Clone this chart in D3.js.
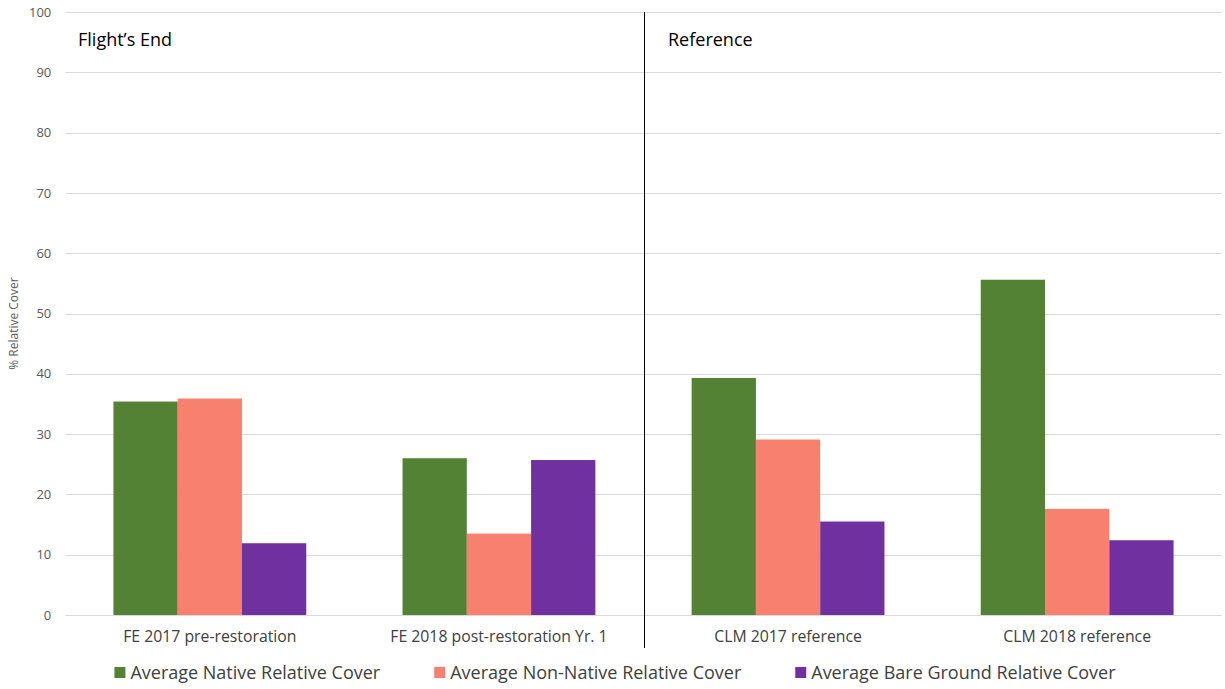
<!DOCTYPE html>
<html>
<head>
<meta charset="utf-8">
<script src="https://cdn.jsdelivr.net/npm/d3@7"></script>
<style>
  html, body { margin: 0; padding: 0; background: #fff; }
  svg { display: block; font-family: "Open Sans", "Liberation Sans", sans-serif; }
</style>
</head>
<body>
<svg id="chart" width="1225" height="689"></svg>
<script>
// Sites / sampling events along the x axis
const categories = [
  "FE 2017 pre-restoration",
  "FE 2018 post-restoration Yr. 1",
  "CLM 2017 reference",
  "CLM 2018 reference"
];
const seriesNames = [
  "Average Native Relative Cover",
  "Average Non-Native Relative Cover",
  "Average Bare Ground Relative Cover"
];
const seriesColors = ["#548235", "#F8806F", "#7030A0"];
const nativeCover    = [35.4, 26.0, 39.3, 55.6];
const nonNativeCover = [35.9, 13.5, 29.1, 17.6];
const bareGround     = [11.9, 25.7, 15.5, 12.4];
const yTicks = [0, 10, 20, 30, 40, 50, 60, 70, 80, 90, 100];
const panelTitles = ["Flight\u2019s End", "Reference"];

const seriesValues = [nativeCover, nonNativeCover, bareGround];
const rows = categories.map((c, i) => ({
  cat: c,
  vals: seriesValues.map((s, j) => ({ key: seriesNames[j], value: s[i], color: seriesColors[j] }))
}));

const svg = d3.select("#chart");
const plot = { left: 65.3, right: 1221.7, top: 12, bottom: 615 };

const x = d3.scaleBand().domain(categories).range([plot.left, plot.right])
  .paddingInner(0.333).paddingOuter(0.1665);
const xs = d3.scaleBand().domain(seriesNames).range([0, x.bandwidth()]);
const y = d3.scaleLinear().domain([0, 100]).range([plot.bottom, plot.top]);

// horizontal gridlines
svg.append("g").selectAll("line").data(yTicks).join("line")
  .attr("x1", plot.left).attr("x2", plot.right)
  .attr("y1", d => Math.round(y(d)) + 0.5).attr("y2", d => Math.round(y(d)) + 0.5)
  .attr("stroke", "#D9D9D9").attr("stroke-width", 1);

// y axis labels
const yAxis = svg.append("g").attr("transform", `translate(${plot.left},0)`)
  .call(d3.axisLeft(y).tickValues(yTicks).tickSize(0).tickPadding(14));
yAxis.select(".domain").remove();
yAxis.selectAll("text").attr("fill", "#595959").style("font-size", "13px")
  .style("font-family", "'Open Sans', sans-serif");

// y axis title
svg.append("text")
  .attr("transform", `translate(18,${(plot.top + plot.bottom) / 2 + 10}) rotate(-90)`)
  .attr("text-anchor", "middle").attr("fill", "#595959").style("font-size", "12px")
  .text("% Relative Cover");

// bars
const groups = svg.append("g").selectAll("g").data(rows).join("g")
  .attr("transform", d => `translate(${x(d.cat)},0)`);
groups.selectAll("rect").data(d => d.vals).join("rect")
  .attr("x", d => xs(d.key)).attr("width", xs.bandwidth())
  .attr("y", d => y(d.value)).attr("height", d => y(0) - y(d.value))
  .attr("fill", d => d.color);

// category labels
const xAxis = svg.append("g").attr("transform", `translate(0,${plot.bottom})`)
  .call(d3.axisBottom(x).tickSize(0).tickPadding(16));
xAxis.select(".domain").remove();
xAxis.selectAll("text").attr("fill", "#404040").style("font-size", "15.8px")
  .style("font-family", "'Open Sans', sans-serif");

// divider between the two sites
const divX = Math.round(x(categories[2]) - x.step() * x.paddingInner() / 2) + 0.5;
svg.append("line").attr("x1", divX).attr("x2", divX)
  .attr("y1", plot.top).attr("y2", 648)
  .attr("stroke", "#000").attr("stroke-width", 1);

// panel titles
svg.append("text").attr("x", 78).attr("y", 46).attr("fill", "#000")
  .style("font-size", "18px").text(panelTitles[0]);
svg.append("text").attr("x", 668).attr("y", 46).attr("fill", "#000")
  .style("font-size", "18px").text(panelTitles[1]);

// legend
const legend = svg.append("g");
const items = legend.selectAll("g").data(seriesNames).join("g");
items.append("rect").attr("width", 11).attr("height", 11).attr("y", -12)
  .attr("fill", (d, i) => seriesColors[i]);
items.append("text").attr("x", 16).attr("y", 0).attr("fill", "#404040")
  .style("font-size", "18px").text(d => d);
let cx = 0;
items.each(function () {
  d3.select(this).attr("transform", `translate(${cx},0)`);
  cx += 16 + this.querySelector("text").getComputedTextLength() + 54;
});
const totalW = cx - 54;
legend.attr("transform", `translate(${(108 + 1122) / 2 - totalW / 2},679)`);
</script>
</body>
</html>
